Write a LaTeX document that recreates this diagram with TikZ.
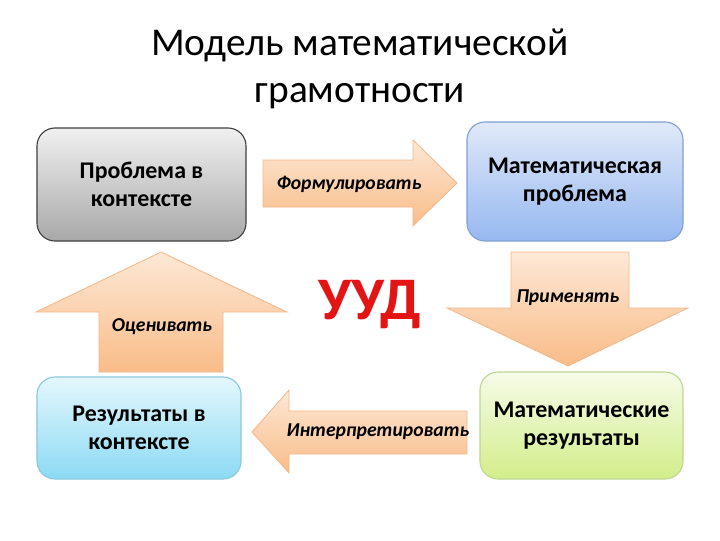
\documentclass[tikz,border=0pt]{standalone}
\usepackage{fontspec}
\setmainfont{Carlito}
\usetikzlibrary{positioning, calc}
\definecolor{grauoben}{RGB}{240,240,240}
\definecolor{grauunten}{RGB}{168,168,168}
\definecolor{blauoben}{RGB}{224,233,248}
\definecolor{blauunten}{RGB}{150,184,240}
\definecolor{blaurand}{RGB}{130,160,210}
\definecolor{cyanoben}{RGB}{228,247,252}
\definecolor{cyanunten}{RGB}{140,218,244}
\definecolor{cyanrand}{RGB}{140,200,220}
\definecolor{gruenoben}{RGB}{246,251,232}
\definecolor{gruenunten}{RGB}{210,238,138}
\definecolor{gruenrand}{RGB}{190,214,150}
\definecolor{pfeiloben}{RGB}{253,232,214}
\definecolor{pfeilunten}{RGB}{249,188,136}
\definecolor{pfeilrand}{RGB}{244,184,136}
\definecolor{uudrot}{RGB}{226,20,20}
\tikzset{
  kasten/.style = {rounded corners=0.45cm, line width=0.8pt, align=center,
                   font=\fontsize{17}{19.5}\selectfont\bfseries},
  pfeil/.style = {top color=pfeiloben, bottom color=pfeilunten, draw=pfeilrand, line width=0.6pt},
  pfeiltext/.style = {font=\fontsize{14}{16}\selectfont\bfseries\itshape}
}

\begin{document}
\begin{tikzpicture}[x=0.025cm, y=-0.025cm]
    \useasboundingbox (0,0) rectangle (720,540);
    \node[align=center, font=\fontsize{28}{33.4}\selectfont] (titel) at (360,69) {Модель математической\\грамотности};
    % Kaesten
    \node[kasten, draw=black!75, top color=grauoben, bottom color=grauunten,
          minimum width=5.225cm, minimum height=2.825cm] (prob) at (141.5,184.5) {Проблема в\\контексте};
    \node[kasten, draw=blaurand, top color=blauoben, bottom color=blauunten,
          minimum width=5.4cm, minimum height=2.975cm] (mprob) at (575,181.5) {Математическая\\проблема};
    \node[kasten, draw=cyanrand, top color=cyanoben, bottom color=cyanunten,
          minimum width=5.1cm, minimum height=2.55cm] (res) at (139,428) {Результаты в\\контексте};
    \node[kasten, draw=gruenrand, top color=gruenoben, bottom color=gruenunten,
          minimum width=5.075cm, minimum height=2.675cm] (mres) at (581.5,425.5) {Математические\\результаты};
    % Pfeile
    \draw[pfeil] (263,160) -- (413,160) -- (413,140) -- (457,183) -- (413,226) -- (413,207) -- (263,207) -- cycle;
    \draw[pfeil] (511,252) -- (629,252) -- (629,308) -- (688,308) -- (568,366) -- (447,308) -- (511,308) -- cycle;
    \draw[pfeil] (467,411) -- (289,411) -- (289,390) -- (252,432) -- (289,473) -- (289,454) -- (467,454) -- cycle;
    \draw[pfeil] (99,372) -- (99,312) -- (36,312) -- (161,252) -- (287,312) -- (223,312) -- (223,372) -- cycle;
    \node[pfeiltext] (form) at (349,184) {Формулировать};
    \node[pfeiltext] (prim) at (568,298) {Применять};
    \node[pfeiltext] (intp) at (378,432) {Интерпретировать};
    \node[pfeiltext] (ocen) at (162,327) {Оценивать};
    \node[text=uudrot, font=\fontsize{43}{48}\selectfont\bfseries] (uud) at (370,305) {УУД};
\end{tikzpicture}
\end{document}
